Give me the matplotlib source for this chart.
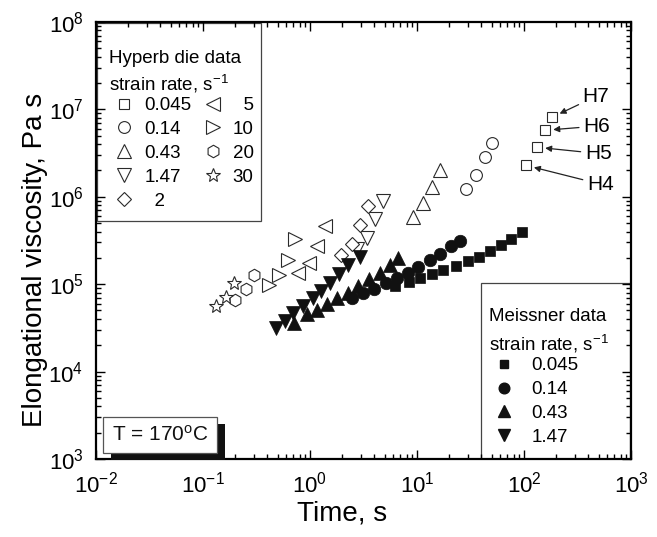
import matplotlib
matplotlib.use("Agg")
import matplotlib.pyplot as plt
from matplotlib.patches import Rectangle
from matplotlib.lines import Line2D
from matplotlib.ticker import LogLocator, LogFormatterMathtext, NullFormatter
import matplotlib.patheffects as pe

plt.rcParams['font.family'] = ['Liberation Sans', 'DejaVu Sans']
plt.rcParams['mathtext.fontset'] = 'custom'
plt.rcParams['mathtext.rm'] = 'Liberation Sans'
plt.rcParams['mathtext.it'] = 'Liberation Sans:italic'
plt.rcParams['mathtext.default'] = 'regular'
plt.rcParams['axes.unicode_minus'] = False

# ---------------- data ----------------
# Hyperbolic die data (open symbols): strain rate -> (time s, viscosity Pa s)
hyp_rates = ['0.045', '0.14', '0.43', '1.47', '2', '5', '10', '20', '30']
hyp_labels = ['0.045', '0.14', '0.43', '1.47', '  2', '  5', '10', '20', '30']
hyp_markers = ['s', 'o', '^', 'v', 'D', '<', '>', 'h', '*']
hyp_t_0045 = [104, 132, 157, 183]
hyp_eta_0045 = [2.29e6, 3.69e6, 5.77e6, 8.14e6]
hyp_t_014 = [28.7, 35.6, 43.2, 50.2]
hyp_eta_014 = [1.22e6, 1.76e6, 2.83e6, 4.09e6]
hyp_t_043 = [9.18, 11.4, 13.8, 16.4]
hyp_eta_043 = [5.8e5, 8.4e5, 1.31e6, 2.01e6]
hyp_t_147 = [2.75, 3.41, 4.05, 4.81]
hyp_eta_147 = [2.56e5, 3.42e5, 5.5e5, 8.85e5]
hyp_t_2 = [1.95, 2.47, 2.93, 3.48]
hyp_eta_2 = [2.13e5, 2.92e5, 4.70e5, 7.76e5]
hyp_t_5 = [0.773, 0.98, 1.16, 1.38]
hyp_eta_5 = [1.33e5, 1.77e5, 2.70e5, 4.58e5]
hyp_t_10 = [0.414, 0.513, 0.623, 0.724]
hyp_eta_10 = [9.9e4, 1.29e5, 1.87e5, 3.25e5]
hyp_t_20 = [0.199, 0.252, 0.30]
hyp_eta_20 = [6.65e4, 8.9e4, 1.29e5]
hyp_t_30 = [0.132, 0.164, 0.195]
hyp_eta_30 = [5.69e4, 7.2e4, 1.04e5]

# Meissner data (filled symbols)
mei_labels = ['0.045', '0.14', '0.43', '1.47']
mei_markers = ['s', 'o', '^', 'v']
mei_t_0045 = [6.22, 8.41, 10.7, 13.8, 17.5, 23.1, 30.0, 37.9, 48.1, 61.0, 75.6, 95.8]
mei_eta_0045 = [9.6e4, 1.07e5, 1.19e5, 1.32e5, 1.47e5, 1.63e5, 1.82e5, 2.07e5,
                2.37e5, 2.84e5, 3.33e5, 3.91e5]
mei_t_014 = [2.47, 3.13, 3.96, 5.13, 6.50, 8.24, 10.2, 13.2, 16.4, 20.8, 25.2]
mei_eta_014 = [7.02e4, 8.0e4, 8.9e4, 1.04e5, 1.19e5, 1.36e5, 1.59e5, 1.87e5,
               2.24e5, 2.70e5, 3.16e5]
mei_t_043 = [0.708, 0.94, 1.16, 1.44, 1.79, 2.27, 2.81, 3.56, 4.51, 5.60, 6.64]
mei_eta_043 = [3.63e4, 4.6e4, 5.12e4, 6.0e4, 7.02e4, 8.0e4, 9.6e4, 1.16e5,
               1.36e5, 1.68e5, 2.02e5]
mei_t_147 = [0.481, 0.583, 0.693, 0.861, 1.07, 1.27, 1.54, 1.87, 2.27, 2.93]
mei_eta_147 = [3.18e4, 3.83e4, 4.72e4, 5.69e4, 7.02e4, 8.45e4, 1.04e5, 1.32e5,
               1.68e5, 2.07e5]

annot_labels = ['H4', 'H5', 'H6', 'H7']

hyp_series = [(hyp_t_0045, hyp_eta_0045), (hyp_t_014, hyp_eta_014), (hyp_t_043, hyp_eta_043),
              (hyp_t_147, hyp_eta_147), (hyp_t_2, hyp_eta_2), (hyp_t_5, hyp_eta_5),
              (hyp_t_10, hyp_eta_10), (hyp_t_20, hyp_eta_20), (hyp_t_30, hyp_eta_30)]
mei_series = [(mei_t_0045, mei_eta_0045), (mei_t_014, mei_eta_014),
              (mei_t_043, mei_eta_043), (mei_t_147, mei_eta_147)]

# ---------------- figure ----------------
fig = plt.figure(figsize=(6.57, 5.37), dpi=100)
ax = fig.add_axes([0.1461, 0.1453, 0.8143, 0.8137])
ax.set_xscale('log')
ax.set_yscale('log')
ax.set_xlim(1e-2, 1e3)
ax.set_ylim(1e3, 1e8)

open_ms = {'s': 7.5, 'o': 8.5, '^': 9.5, 'v': 9.5, 'D': 7, '<': 9.5, '>': 9.5, 'h': 9, '*': 10}
edge = '#2a2a2a'
hyp_handles = []
for (t, e), m, lab in zip(hyp_series, hyp_markers, hyp_labels):
    ln, = ax.plot(t, e, linestyle='none', marker=m, ms=open_ms[m], mfc='white',
                  mec=edge, mew=0.8, zorder=3, label=lab)
    hyp_handles.append(ln)

fill_ms = {'s': 7.5, 'o': 9, '^': 10, 'v': 10}
mei_handles = []
for (t, e), m, lab in zip(mei_series, mei_markers, mei_labels):
    ln, = ax.plot(t, e, linestyle='none', marker=m, ms=fill_ms[m], mfc='#111111',
                  mec='#111111', mew=0.5, zorder=3, label=lab)
    mei_handles.append(ln)

# annotations H4..H7 on the hyperbolic die 0.045 points
offsets = [(44, -13.5), (34.5, -4.5), (27.5, 3), (22, 15)]
for lab, tx, ey, off in zip(annot_labels, hyp_t_0045, hyp_eta_0045, offsets):
    ax.annotate(lab, xy=(tx, ey), xytext=off, textcoords='offset points',
                fontsize=15, ha='left', va='center',
                arrowprops=dict(arrowstyle='-|>', color='#222222', lw=0.9,
                                shrinkA=1, shrinkB=6, mutation_scale=9))

# ---------------- axes styling ----------------
for sp in ax.spines.values():
    sp.set_linewidth(1.6)
ax.tick_params(which='both', direction='in', top=True, right=True, width=1.0)
ax.tick_params(which='major', length=6.5, labelsize=16, pad=9)
ax.tick_params(which='minor', length=3.5)
ax.xaxis.set_major_locator(LogLocator(base=10, numticks=10))
ax.yaxis.set_major_locator(LogLocator(base=10, numticks=10))
ax.xaxis.set_minor_locator(LogLocator(base=10, subs=range(2, 10), numticks=20))
ax.yaxis.set_minor_locator(LogLocator(base=10, subs=range(2, 10), numticks=20))
ax.xaxis.set_major_formatter(LogFormatterMathtext())
ax.yaxis.set_major_formatter(LogFormatterMathtext())
ax.xaxis.set_minor_formatter(NullFormatter())
ax.yaxis.set_minor_formatter(NullFormatter())

ax.set_xlabel('Time, s', fontsize=20)
ax.set_ylabel('Elongational viscosity, Pa s', fontsize=20)
ax.xaxis.set_label_coords(0.46, -0.095)
ax.yaxis.set_label_coords(-0.09, 0.455)

# ---------------- legends ----------------
ax.add_patch(Rectangle((0.002, 0.545), 0.306, 0.453, transform=ax.transAxes,
                       fc='white', ec='#444444', lw=0.9, zorder=1))
leg1 = ax.legend(handles=hyp_handles, labels=hyp_labels, ncol=2,
                 title='Hyperb die data\nstrain rate, s$^{-1}$',
                 loc='upper left', bbox_to_anchor=(0.025, 0.935),
                 frameon=False, fontsize=13.5, title_fontsize=13.5,
                 borderpad=0, borderaxespad=0, handlelength=1.6,
                 handletextpad=0.27, columnspacing=0.32, labelspacing=0.36,
                 alignment='left')
leg1.get_title().set_linespacing(1.3)
leg1._legend_box.sep = 0.12 * 13.5
ax.add_artist(leg1)

ax.add_patch(Rectangle((0.72, 0.0), 0.278, 0.403, transform=ax.transAxes,
                       fc='white', ec='#444444', lw=0.9, zorder=1))
mei_fill_handles = [Line2D([], [], linestyle='none', marker=m, ms=fill_ms[m] * 0.85,
                           mfc='#111111', mec='#111111') for m in mei_markers]
leg2 = ax.legend(handles=mei_fill_handles, labels=mei_labels,
                 title='Meissner data\nstrain rate, s$^{-1}$',
                 loc='upper left', bbox_to_anchor=(0.735, 0.345),
                 frameon=False, fontsize=13.5, title_fontsize=13.5,
                 borderpad=0, borderaxespad=0, handlelength=1.6,
                 handletextpad=0.64, labelspacing=0.36, alignment='left')
leg2.get_title().set_linespacing(1.45)
leg2._legend_box.sep = 0.1 * 13.5

# ---------------- temperature box with drop shadow ----------------
tlabel = 'T = 170$^{o}$C'
ttxt = ax.text(0.1196, 0.055, tlabel, transform=ax.transAxes, fontsize=15, color='#111111',
               ha='center', va='center', zorder=7,
               bbox=dict(boxstyle='square,pad=0.4', fc='white', ec='#555555', lw=0.9))
ttxt.get_bbox_patch().set_path_effects([
    pe.SimplePatchShadow(offset=(5.8, -5.0), shadow_rgbFace='#111111', alpha=1.0),
    pe.Normal()])

fig.savefig('out.png', dpi=100)
